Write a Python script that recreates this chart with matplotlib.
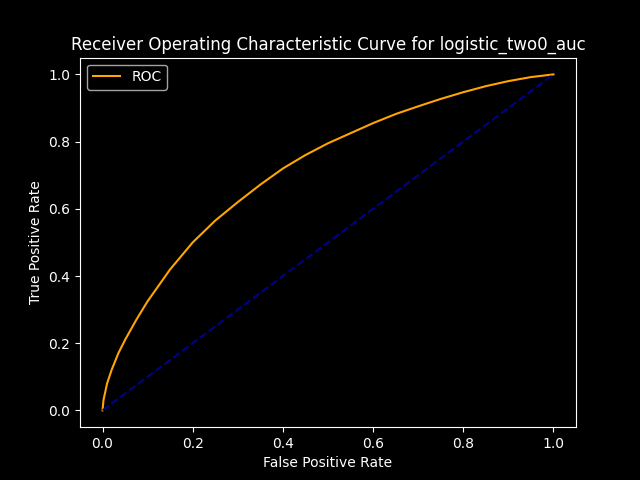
import matplotlib
matplotlib.use('Agg')
import matplotlib.pyplot as plt

# ROC points
fpr = [0.0, 0.002, 0.01, 0.02, 0.035, 0.05, 0.075, 0.1, 0.15, 0.2, 0.25, 0.3,
       0.35, 0.4, 0.45, 0.5, 0.55, 0.6, 0.65, 0.7, 0.75, 0.8, 0.85, 0.9, 0.95, 1.0]
tpr = [0.0, 0.03, 0.08, 0.12, 0.17, 0.21, 0.27, 0.325, 0.42, 0.5, 0.565, 0.62,
       0.672, 0.72, 0.76, 0.795, 0.825, 0.855, 0.882, 0.905, 0.927, 0.947, 0.965, 0.98, 0.992, 1.0]
diag = [0.0, 1.0]


def main():
    plt.style.use('dark_background')
    fig, ax = plt.subplots(figsize=(6.4, 4.8), dpi=100)
    ax.plot(fpr, tpr, color='orange', label='ROC')
    ax.plot(diag, diag, color='darkblue', linestyle='--')
    ax.set_xlabel('False Positive Rate')
    ax.set_ylabel('True Positive Rate')
    ax.set_title('Receiver Operating Characteristic Curve for logistic_two0_auc')
    ax.legend(loc='upper left')
    fig.savefig('out.png')


if __name__ == "__main__":
    main()
